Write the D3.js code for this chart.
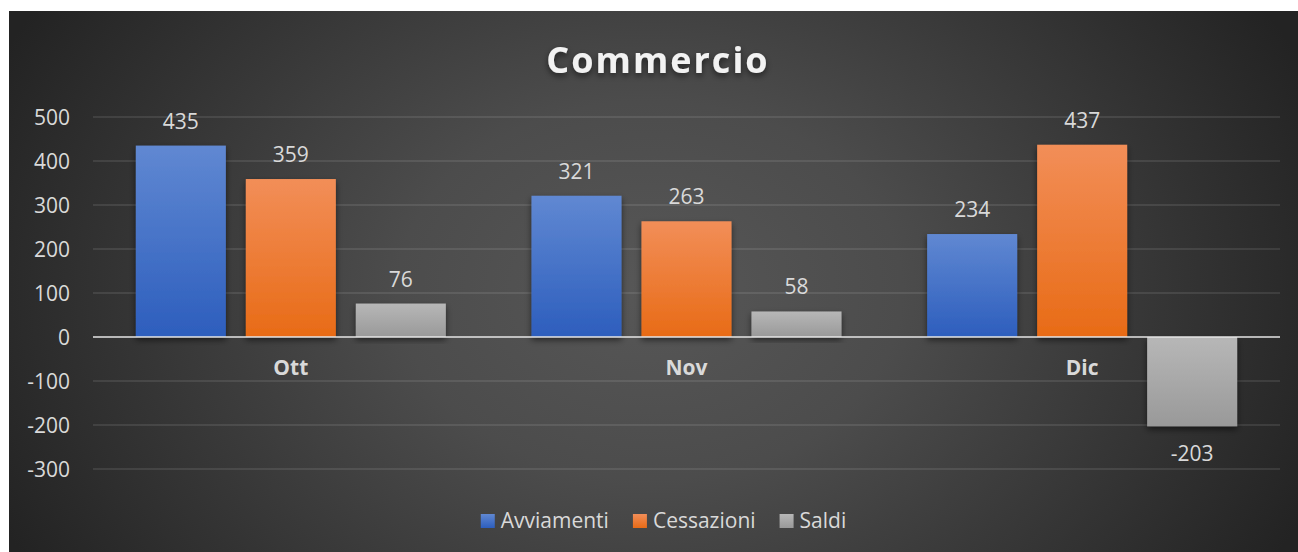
<!DOCTYPE html>
<html><head><meta charset="utf-8">
<script src="https://cdn.jsdelivr.net/npm/d3@7"></script>
<style>body{margin:0;background:#fff;}svg{display:block;font-family:"Open Sans",sans-serif;}</style>
</head><body>
<svg id="c" width="1298" height="552"></svg>
<script>
const categories = ["Ott", "Nov", "Dic"];
const seriesNames = ["Avviamenti", "Cessazioni", "Saldi"];
const avviamenti = [435, 321, 234];
const cessazioni = [359, 263, 437];
const saldi = [76, 58, -203];
const yTicks = [-300, -200, -100, 0, 100, 200, 300, 400, 500];
const title = "Commercio";

const seriesValues = [avviamenti, cessazioni, saldi];
const colors = [
  {top:"#6088d2", bot:"#2d5ebd", legend:"#3f6cc6"},
  {top:"#f28e58", bot:"#e86b16", legend:"#ef7a2a"},
  {top:"#b7b7b7", bot:"#999999", legend:"#a6a6a6"}
];

const svg = d3.select("#c");
const defs = svg.append("defs");
const bg = defs.append("radialGradient").attr("id","bg")
  .attr("gradientUnits","userSpaceOnUse").attr("cx",650).attr("cy",290).attr("r",720)
  .attr("gradientTransform","translate(650,290) scale(1,0.75) translate(-650,-290)");
bg.append("stop").attr("offset",0).attr("stop-color","#575757");
bg.append("stop").attr("offset",0.35).attr("stop-color","#4c4c4c");
bg.append("stop").attr("offset",1).attr("stop-color","#232323");
colors.forEach((c,i)=>{
  const g = defs.append("linearGradient").attr("id","g"+i).attr("x1",0).attr("y1",0).attr("x2",0).attr("y2",1);
  g.append("stop").attr("offset",0).attr("stop-color",c.top);
  g.append("stop").attr("offset",1).attr("stop-color",c.bot);
});
const f = defs.append("filter").attr("id","sh").attr("x","-20%").attr("y","-20%").attr("width","140%").attr("height","140%");
f.append("feDropShadow").attr("dx",0).attr("dy",3).attr("stdDeviation",3).attr("flood-color","#000").attr("flood-opacity",0.55);

svg.append("rect").attr("x",9).attr("y",11).attr("width",1289).attr("height",541).attr("fill","url(#bg)");

const y = d3.scaleLinear().domain([-300,500]).range([469,117]);
const x = d3.scaleBand().domain(categories).range([93,1280]).padding(0);
const bw = x.bandwidth();
const barW = bw*0.2275, gap = bw*0.0505;
const groupW = 3*barW + 2*gap;

// gridlines
svg.append("g").selectAll("line").data(yTicks.filter(t=>t!==0)).join("line")
  .attr("x1",93).attr("x2",1280).attr("y1",d=>y(d)).attr("y2",d=>y(d))
  .attr("stroke","rgba(255,255,255,0.13)").attr("stroke-width",1.5);

// y axis labels
svg.append("g").selectAll("text").data(yTicks).join("text")
  .attr("x",70).attr("y",d=>y(d)).attr("dy","0.36em").attr("text-anchor","end")
  .attr("fill","#d9d9d9").attr("font-size",21).text(d=>d);

// bars
const bars = [];
categories.forEach((c,ci)=>{
  seriesValues.forEach((vals,si)=>{
    bars.push({c, si, v: vals[ci], x: x(c)+bw/2-groupW/2+si*(barW+gap)});
  });
});
svg.append("g").selectAll("rect").data(bars).join("rect")
  .attr("x",d=>d.x).attr("width",barW)
  .attr("y",d=>y(Math.max(0,d.v))).attr("height",d=>Math.abs(y(d.v)-y(0)))
  .attr("fill",d=>"url(#g"+d.si+")").attr("filter","url(#sh)");

// zero line
svg.append("line").attr("x1",93).attr("x2",1280).attr("y1",y(0)).attr("y2",y(0))
  .attr("stroke","rgba(230,230,230,0.75)").attr("stroke-width",2);

// value labels
svg.append("g").selectAll("text").data(bars).join("text")
  .attr("x",d=>d.x+barW/2).attr("text-anchor","middle")
  .attr("y",d=>d.v>=0 ? y(d.v)-17 : y(d.v)+35)
  .attr("fill","#d9d9d9").attr("font-size",21).text(d=>d.v);

// category labels
svg.append("g").selectAll("text").data(categories).join("text")
  .attr("x",d=>x(d)+bw/2).attr("y",375).attr("text-anchor","middle")
  .attr("fill","#d9d9d9").attr("font-size",21).attr("font-weight","bold").text(d=>d);

// title
svg.append("text").attr("x",658).attr("y",73).attr("text-anchor","middle")
  .attr("fill","#f2f2f2").attr("font-size",36).attr("font-weight","bold")
  .attr("letter-spacing",2).attr("filter","url(#sh)").text(title);

// legend
const lg = svg.append("g");
const items = lg.selectAll("g").data(seriesNames).join("g");
items.append("rect").attr("width",14).attr("height",14).attr("y",-14).attr("fill",(d,i)=>"url(#g"+i+")");
items.append("text").attr("x",20).attr("fill","#d9d9d9").attr("font-size",21).text(d=>d);
let cx = 0;
const widths = [];
items.each(function(){ widths.push(20 + d3.select(this).select("text").node().getComputedTextLength()); });
const total = d3.sum(widths) + 24*(widths.length-1);
let start = 663.5 - total/2;
items.attr("transform",(d,i)=>{ const t = "translate("+(start)+",528)"; start += widths[i]+24; return t; });
</script>
</body></html>
